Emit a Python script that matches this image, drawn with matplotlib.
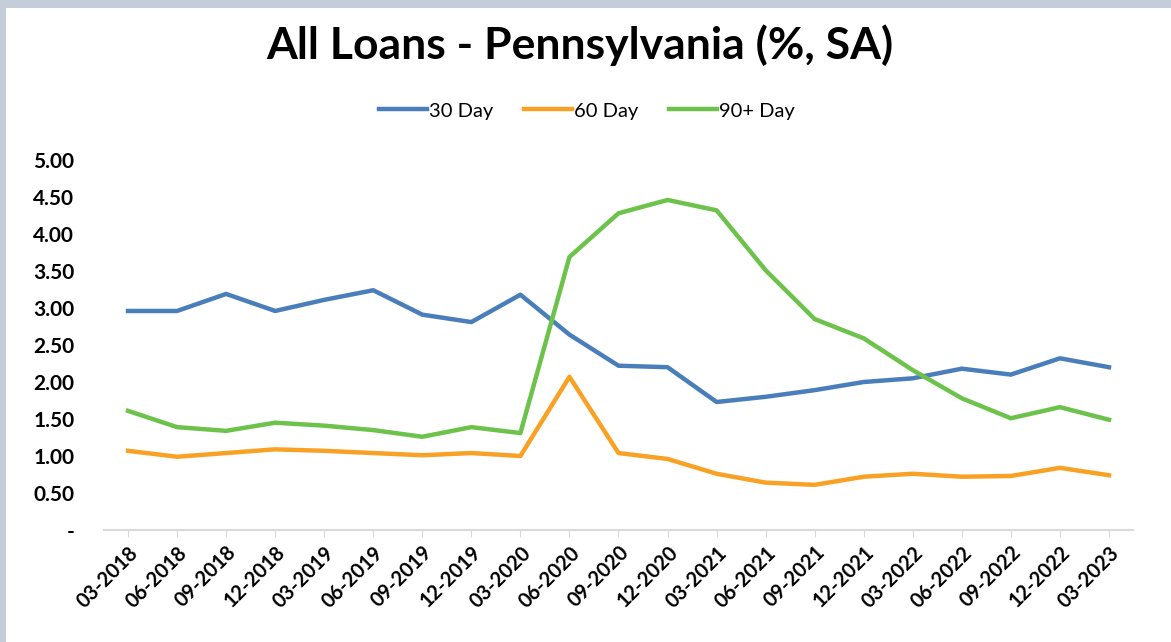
import matplotlib.pyplot as plt
from matplotlib.patches import Rectangle

plt.rcParams['font.family'] = ['Lato', 'DejaVu Sans']

quarters = ["03-2018", "06-2018", "09-2018", "12-2018", "03-2019", "06-2019", "09-2019",
            "12-2019", "03-2020", "06-2020", "09-2020", "12-2020", "03-2021", "06-2021",
            "09-2021", "12-2021", "03-2022", "06-2022", "09-2022", "12-2022", "03-2023"]

day30 = [2.96, 2.96, 3.19, 2.96, 3.11, 3.24, 2.91, 2.81, 3.18, 2.64, 2.22,
         2.20, 1.73, 1.80, 1.89, 2.00, 2.05, 2.18, 2.10, 2.32, 2.20]
day60 = [1.07, 0.99, 1.04, 1.09, 1.07, 1.04, 1.01, 1.04, 1.00, 2.07, 1.04,
         0.96, 0.76, 0.64, 0.61, 0.72, 0.76, 0.72, 0.73, 0.84, 0.74]
day90 = [1.61, 1.39, 1.34, 1.45, 1.41, 1.35, 1.26, 1.39, 1.31, 3.69, 4.28,
         4.46, 4.32, 3.51, 2.85, 2.59, 2.16, 1.78, 1.51, 1.66, 1.49]

yticks = [0, 0.5, 1, 1.5, 2, 2.5, 3, 3.5, 4, 4.5, 5]

W, H = 1171, 642
fig = plt.figure(figsize=(W / 100, H / 100), dpi=100)
fig.patch.set_facecolor('#c5ced8')
fig.patches.append(Rectangle((6 / W, 0), 1 - 6 / W, 1 - 8 / H, transform=fig.transFigure,
                             facecolor='white', edgecolor='none', zorder=-10))

ax = fig.add_axes([103.5 / W, (H - 530) / H, 1030 / W, 370 / H])
ax.patch.set_alpha(0)

x = range(len(quarters))
ax.plot(x, day30, color='#4a7ebb', lw=3.2, label='30 Day', solid_joinstyle='round')
ax.plot(x, day60, color='#f9a125', lw=3.2, label='60 Day', solid_joinstyle='round')
ax.plot(x, day90, color='#6cc24a', lw=3.2, label='90+ Day', solid_joinstyle='round')

ax.set_xlim(-0.5, len(quarters) - 0.5)
ax.set_ylim(0, 5)
ax.set_yticks(yticks)
ax.set_yticklabels(['-' if v == 0 else f"{v:.2f}" for v in yticks],
                   fontsize=15, fontweight='bold')
ax.tick_params(axis='y', length=0, pad=21)
ax.set_xticks(list(x))
ax.set_xticklabels(quarters, rotation=45, ha='right', rotation_mode='anchor',
                   fontsize=14.5, fontweight='bold')
ax.tick_params(axis='x', length=5, color='#d9d9d9', pad=4)

for s in ['top', 'right', 'left']:
    ax.spines[s].set_visible(False)
ax.spines['bottom'].set_color('#d9d9d9')
ax.spines['bottom'].set_linewidth(1.5)

fig.text(580 / W, 1 - 45 / H, "All Loans - Pennsylvania (%, SA)", ha='center', va='center',
         fontsize=32, fontweight='bold')
fig.legend(loc='center', bbox_to_anchor=(587 / W, 1 - 111 / H), ncol=3, frameon=False,
           fontsize=14.5, handlelength=2.4, handletextpad=0.1, columnspacing=1.5)

fig.savefig('out.png', dpi=100)
